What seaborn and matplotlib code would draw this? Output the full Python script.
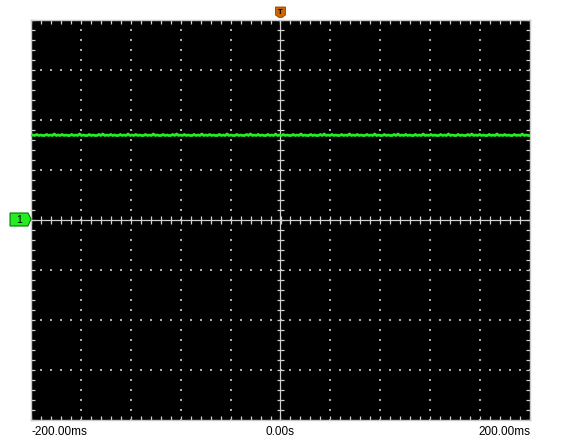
import numpy as np
import matplotlib
matplotlib.use('Agg')
import matplotlib.pyplot as plt
import seaborn as sns
from matplotlib.patches import Polygon

# Channel 1 trace: level in divisions (~1.7 div above centre) plus the small
# sample-to-sample jitter, in hundredths of a division
trace_level = 1.69
trace_jitter = ("0102010020103010201002010301002010020301020100201030102010"
                "0201030100201002030102010020103010201002010301002010020301"
                "0201002010301020100201030100201002030102010020103010201002"
                "0103010020100203010201002010301020100201030100201002030102"
                "01002010301020100201030100")
time_labels = ['-200.00ms', '0.00s', '200.00ms']
x_divs = 10   # horizontal divisions
y_divs = 8    # vertical divisions

sns.set_style('dark')
plt.rcParams['font.family'] = ['Liberation Sans', 'DejaVu Sans']

fig = plt.figure(figsize=(5.61, 4.41), dpi=100, facecolor='white')
ax = fig.add_axes([31 / 561, 21 / 441, 499 / 561, 400 / 441])
ax.set_facecolor('black')

xh, yh = x_divs / 2, y_divs / 2
ax.set_xlim(-xh, xh)
ax.set_ylim(-yh, yh)

# dotted graticule
minor_x = np.arange(-xh, xh + 0.01, 0.2)
minor_y = np.arange(-yh, yh + 0.01, 0.2)
gx, gy = [], []
for v in range(int(-xh) + 1, int(xh)):
    if v != 0:
        gx += [v] * len(minor_y)
        gy += list(minor_y)
for h in range(int(-yh) + 1, int(yh)):
    if h != 0:
        gx += list(minor_x)
        gy += [h] * len(minor_x)
ax.scatter(gx, gy, s=1.0, marker='s', linewidths=0, color='#a8a8a8', zorder=1)

# centre crosshair with small ticks
grey = '#d0d0d0'
ax.axhline(0, color=grey, lw=0.9, zorder=2)
ax.axvline(0, color=grey, lw=0.9, zorder=2)
ax.vlines(minor_x, -0.08, 0.08, color=grey, lw=0.9, zorder=2)
ax.hlines(minor_y, -0.08, 0.08, color=grey, lw=0.9, zorder=2)

# trace
trace_div = [trace_level + int(c) * 0.01 for c in trace_jitter]
t = np.linspace(-xh, xh, len(trace_div))
sns.lineplot(x=t, y=trace_div, ax=ax, color='#22ee22', lw=2.0, zorder=3)

# border with inward ticks
ax.set_xticks(np.arange(-xh, xh + 0.01, 1))
ax.set_yticks(np.arange(-yh, yh + 0.01, 1))
ax.set_xticks(minor_x, minor=True)
ax.set_yticks(minor_y, minor=True)
ax.set_xticklabels([])
ax.set_yticklabels([])
ax.tick_params(which='both', direction='in', length=3, width=0.9, color=grey,
               top=True, right=True, bottom=True, left=True)
ax.grid(False)
for s in ax.spines.values():
    s.set_color('#c8c8c8')
    s.set_linewidth(1.0)

# time labels
ty = -yh - 0.24
ax.text(-xh, ty, time_labels[0], ha='left', va='center', fontsize=8.5, color='black')
ax.text(0, ty, time_labels[1], ha='center', va='center', fontsize=8.5, color='black')
ax.text(xh, ty, time_labels[2], ha='right', va='center', fontsize=8.5, color='black')

# channel 1 marker (left) and trigger marker (top)
m1 = Polygon([[-5.42, 0.14], [-5.06, 0.14], [-5.0, 0.02], [-5.06, -0.12], [-5.42, -0.12]],
             closed=True, facecolor='#22ee22', edgecolor='#007700', lw=0.8,
             clip_on=False, zorder=5)
ax.add_patch(m1)
ax.text(-5.23, 0.01, '1', ha='center', va='center', fontsize=7.5, color='black',
        clip_on=False, zorder=6)
mt = Polygon([[-0.1, 4.26], [0.1, 4.26], [0.1, 4.1], [0.03, 4.05], [-0.03, 4.05], [-0.1, 4.1]],
             closed=True, facecolor='#cc6600', edgecolor='#884400', lw=0.6,
             clip_on=False, zorder=5)
ax.add_patch(mt)
ax.text(0, 4.16, 'T', ha='center', va='center', fontsize=5.5, fontweight='bold',
        color='black', clip_on=False, zorder=6)

fig.savefig('out.png', dpi=100, facecolor='white')
